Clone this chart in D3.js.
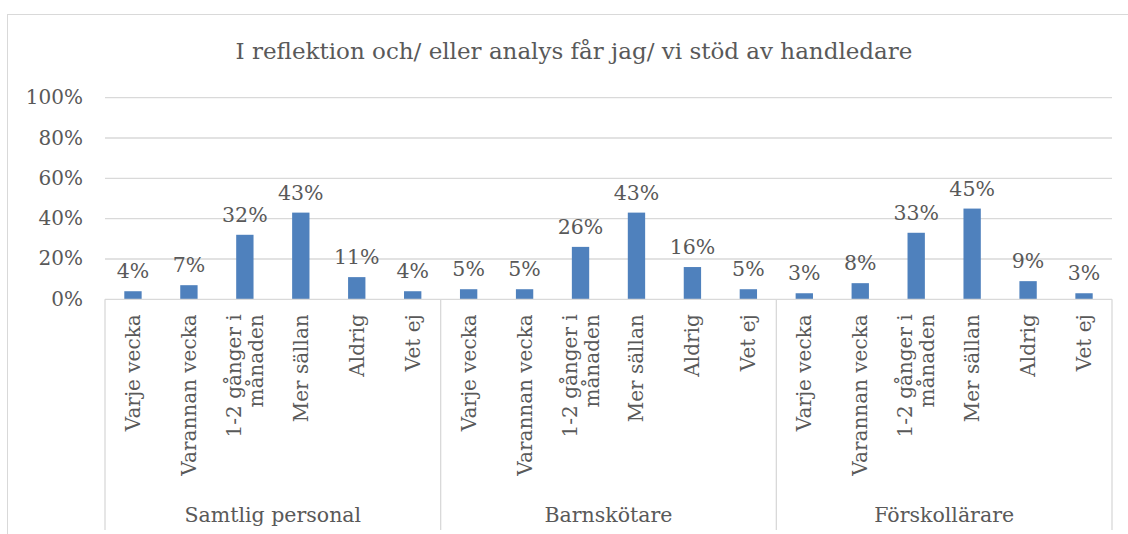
<!DOCTYPE html>
<html>
<head>
<meta charset="utf-8">
<script src="https://cdn.jsdelivr.net/npm/d3@7"></script>
<style>
  body { margin: 0; background: #fff; }
  svg text { font-family: "DejaVu Serif", serif; fill: #595959; }
</style>
</head>
<body>
<svg id="chart" width="1128" height="534"></svg>
<script>
// värden
const title = 'I reflektion och/ eller analys får jag/ vi stöd av handledare';
const groups = ['Samtlig personal', 'Barnskötare', 'Förskollärare'];
const categories = ['Varje vecka', 'Varannan vecka', '1-2 gånger i månaden', 'Mer sällan', 'Aldrig', 'Vet ej'];
const samtlig = [4, 7, 32, 43, 11, 4];
const barnskotare = [5, 5, 26, 43, 16, 5];
const forskollarare = [3, 8, 33, 45, 9, 3];
const yTicks = [0, 20, 40, 60, 80, 100];

// radbrytning för långa etiketter (som i excel)
const catLines = {
    '1-2 gånger i månaden': ['1-2 gånger i', 'månaden']
};

const CONFIG = {
    width: 1128,
    height: 534,
    left: 105,
    right: 1112,
    top: 97.7,
    base: 299.3,
    axisBottom: 530,
    barColor: '#4F81BD',
    gridColor: '#D9D9D9',
    titleSize: 23,
    tickSize: 20,
    valueSize: 20.5,
    catSize: 20,
    groupSize: 20.5
};

const svg = d3.select('#chart');
const series = [samtlig, barnskotare, forskollarare];
const data = [];
groups.forEach((g, gi) => {
    categories.forEach((c, ci) => {
        data.push({ group: g, cat: c, key: g + '|' + c, value: series[gi][ci] });
    });
});

// ram runt diagrammet
svg.append('rect')
    .attr('x', 7.5).attr('y', 14.5)
    .attr('width', 1140).attr('height', 540)
    .attr('fill', 'none')
    .attr('stroke', CONFIG.gridColor);

svg.append('text')
    .attr('x', 574).attr('y', 59)
    .attr('text-anchor', 'middle')
    .attr('font-size', CONFIG.titleSize)
    .text(title);

const xGroup = d3.scaleBand().domain(groups).range([CONFIG.left, CONFIG.right]);
const xCat = d3.scaleBand().domain(data.map(d => d.key)).range([CONFIG.left, CONFIG.right]).paddingInner(0.69).paddingOuter(0.345);
const y = d3.scaleLinear().domain([0, 100]).range([CONFIG.base, CONFIG.top]);

// rutnät
svg.append('g')
    .selectAll('line')
    .data(yTicks.slice(1))
    .enter()
    .append('line')
    .attr('x1', CONFIG.left).attr('x2', CONFIG.right)
    .attr('y1', d => y(d)).attr('y2', d => y(d))
    .attr('stroke', CONFIG.gridColor)
    .attr('stroke-width', 1.3);

const yAxis = svg.append('g')
    .attr('transform', `translate(${CONFIG.left - 22},0)`)
    .call(d3.axisLeft(y).tickValues(yTicks).tickFormat(d => d + '%').tickSize(0).tickPadding(0));
yAxis.select('.domain').remove();
yAxis.selectAll('text')
    .attr('font-size', CONFIG.tickSize)
    .attr('font-family', '"DejaVu Serif", serif')
    .attr('fill', '#595959')
    .attr('dy', '0.3em');

// staplar
svg.selectAll('.bar')
    .data(data)
    .enter()
    .append('rect')
    .attr('class', 'bar')
    .attr('x', d => xCat(d.key))
    .attr('y', d => y(d.value))
    .attr('width', xCat.bandwidth())
    .attr('height', d => y(0) - y(d.value))
    .attr('fill', CONFIG.barColor);

svg.selectAll('.val')
    .data(data)
    .enter()
    .append('text')
    .attr('class', 'val')
    .attr('x', d => xCat(d.key) + xCat.bandwidth() / 2)
    .attr('y', d => y(d.value) - 13)
    .attr('text-anchor', 'middle')
    .attr('font-size', CONFIG.valueSize)
    .text(d => d.value + '%');

// x-axel med två nivåer
svg.append('line')
    .attr('x1', CONFIG.left).attr('x2', CONFIG.right)
    .attr('y1', CONFIG.base).attr('y2', CONFIG.base)
    .attr('stroke', CONFIG.gridColor)
    .attr('stroke-width', 1.3);

svg.selectAll('.divider')
    .data(groups.map(g => xGroup(g)).concat([CONFIG.right]))
    .enter()
    .append('line')
    .attr('x1', d => d).attr('x2', d => d)
    .attr('y1', CONFIG.base).attr('y2', CONFIG.axisBottom)
    .attr('stroke', CONFIG.gridColor)
    .attr('stroke-width', 1.3);

const catLabels = svg.selectAll('.cat')
    .data(data)
    .enter()
    .append('text')
    .attr('class', 'cat')
    .attr('transform', d => `translate(${xCat(d.key) + xCat.bandwidth() / 2},${CONFIG.base + 15}) rotate(-90)`)
    .attr('text-anchor', 'end')
    .attr('font-size', CONFIG.catSize);

catLabels.each(function (d) {
    const lines = catLines[d.cat] || [d.cat];
    const t = d3.select(this);
    lines.forEach((l, i) => {
        t.append('tspan')
            .attr('x', 0)
            .attr('dy', i === 0 ? (0.35 - (lines.length - 1) * 0.55) + 'em' : '1.1em')
            .text(l);
    });
});

svg.selectAll('.grp')
    .data(groups)
    .enter()
    .append('text')
    .attr('class', 'grp')
    .attr('x', d => xGroup(d) + xGroup.bandwidth() / 2)
    .attr('y', 522)
    .attr('text-anchor', 'middle')
    .attr('font-size', CONFIG.groupSize)
    .text(d => d);
</script>
</body>
</html>
